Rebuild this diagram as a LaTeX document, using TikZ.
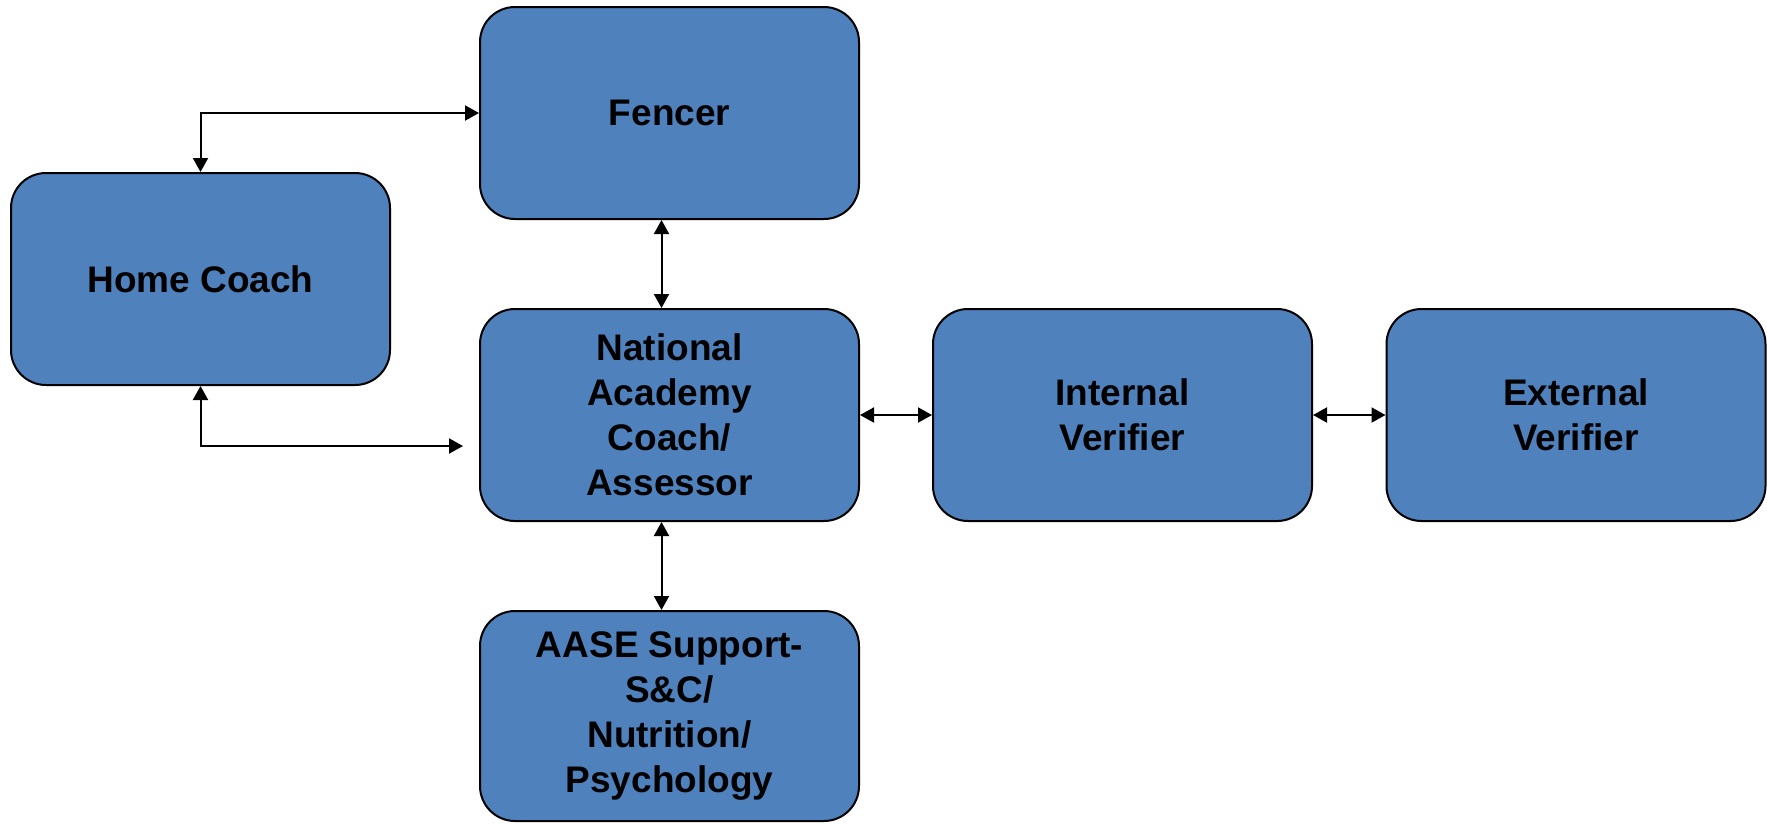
\documentclass[tikz,border=0pt]{standalone}
\usepackage{fontspec}
\setmainfont{Liberation Sans}
\usetikzlibrary{arrows.meta}
\definecolor{boxblue}{HTML}{4F81BD}
\tikzset{
  box/.style={draw=black, line width=2pt, fill=boxblue, rounded corners=35pt,
    minimum width=379pt, minimum height=212pt, inner sep=0pt, align=center,
    font=\fontsize{37}{45}\selectfont\bfseries},
  link/.style={line width=2pt, {Triangle[length=14pt,width=15pt]}-{Triangle[length=14pt,width=15pt]}}
}
\begin{document}
\begin{tikzpicture}[x=1pt,y=-1pt]
\useasboundingbox (0,0) rectangle (1767,823);
\node[box] (fen) at (669.5,113) {\raisebox{-2pt}{Fencer}};
\node[box] (hc) at (200.5,279) {\raisebox{-2pt}{Home Coach}};
\node[box] (na) at (669.5,415) {National\\Academy\\Coach/\\Assessor};
\node[box] (iv) at (1122.5,415) {Internal\\Verifier};
\node[box] (ev) at (1576,415) {External\\Verifier};
\node[box, minimum height=210pt] (aase) at (669.5,716) {AASE Support-\\S\&C/\\Nutrition/\\Psychology};
\coordinate (naIn) at (463,446);
\draw[link] (hc.north) |- (fen.west);
\draw[link] (hc.south) |- (naIn);
\draw[link] ([xshift=-8pt]fen.south) -- ([xshift=-8pt]na.north);
\draw[link] ([xshift=-8pt]na.south) -- ([xshift=-8pt]aase.north);
\draw[link] (na.east) -- (iv.west);
\draw[link] (iv.east) -- (ev.west);
\end{tikzpicture}
\end{document}
